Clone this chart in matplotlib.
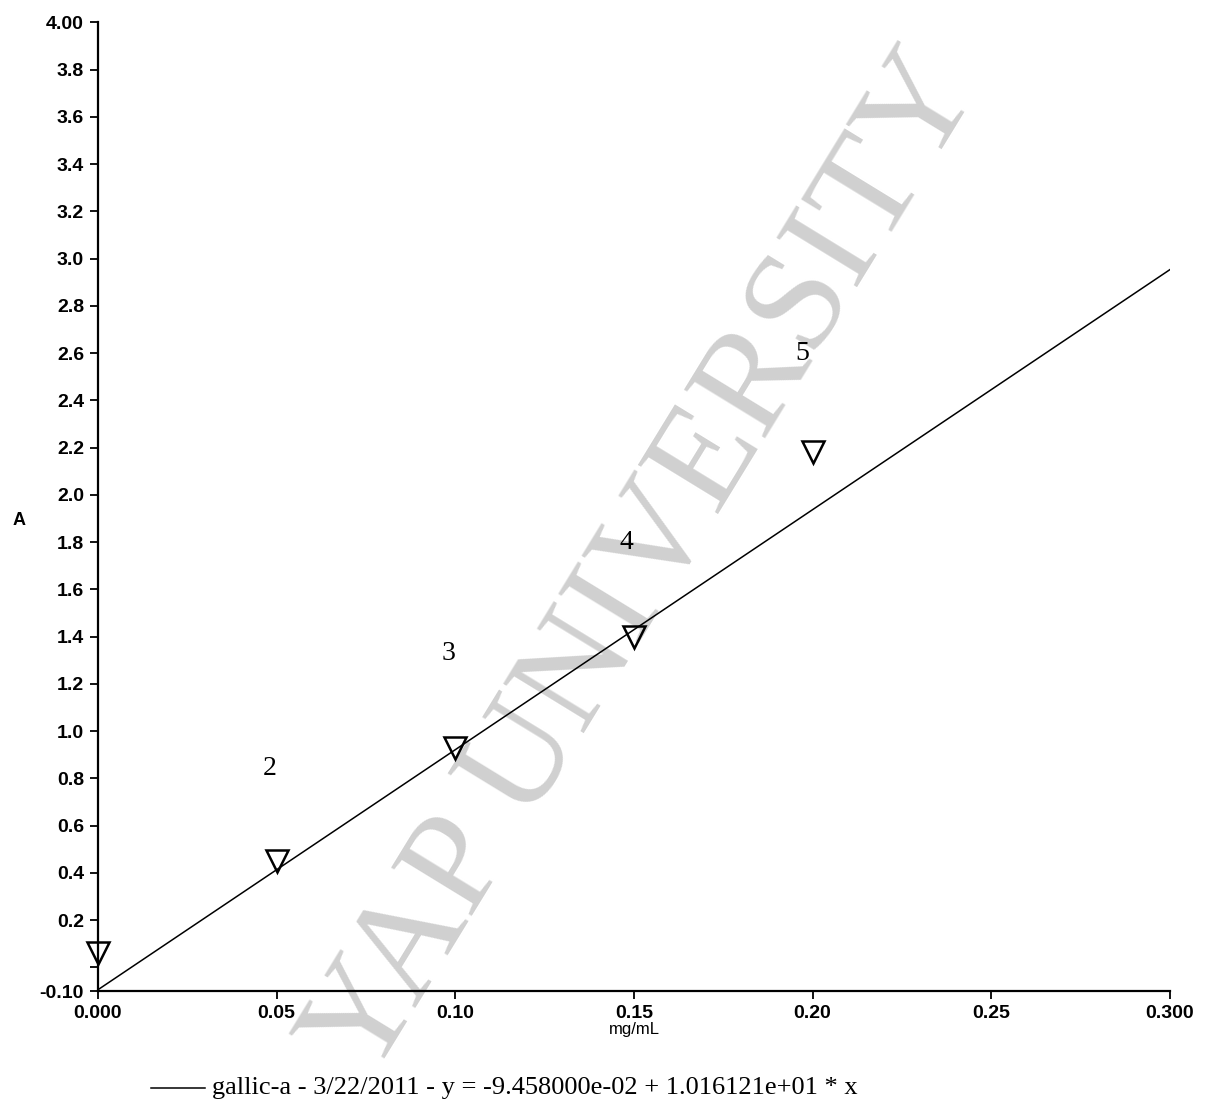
"""Gallic acid calibration curve (absorbance vs concentration), redrawn
from a scanned spectrophotometer printout.
"""

import matplotlib.pyplot as plt

# standards: concentration (mg/mL) and measured absorbance
conc = [0.000, 0.05, 0.10, 0.15, 0.20]
absorbance = [0.06, 0.45, 0.93, 1.40, 2.18]

# sample labels drawn above the standards
label_text = ["2", "3", "4", "5"]
label_x = [0.048, 0.098, 0.148, 0.197]
label_y = [0.84, 1.33, 1.80, 2.60]

# fitted line y = b + m * x
intercept = -9.458000e-02
slope = 1.016121e01
fit_x = [0.0, 0.300]

x_ticks = [0.000, 0.05, 0.10, 0.15, 0.20, 0.25, 0.300]
x_tick_labels = ["0.000", "0.05", "0.10", "0.15", "0.20", "0.25", "0.300"]
y_ticks = [-0.10, 0.0, 0.2, 0.4, 0.6, 0.8, 1.0, 1.2, 1.4, 1.6, 1.8, 2.0,
           2.2, 2.4, 2.6, 2.8, 3.0, 3.2, 3.4, 3.6, 3.8, 4.00]
y_tick_labels = ["-0.10", "", "0.2", "0.4", "0.6", "0.8", "1.0", "1.2", "1.4",
                 "1.6", "1.8", "2.0", "2.2", "2.4", "2.6", "2.8", "3.0", "3.2",
                 "3.4", "3.6", "3.8", "4.00"]

legend_text = "gallic-a - 3/22/2011 - y = -9.458000e-02 + 1.016121e+01 * x"
watermark = "YAP UNIVERSITY"

SANS = ["Liberation Sans", "DejaVu Sans"]
SERIF = ["Liberation Serif", "DejaVu Serif"]

fig = plt.figure(figsize=(12.14, 11.12), dpi=100)
ax = fig.add_axes([0.0807, 0.1088, 0.883, 0.871])
ax.set_facecolor("none")

# faint diagonal watermark behind the data
ax.text(0.532, 0.49, watermark, transform=fig.transFigure, family=SERIF,
        fontsize=104, color="#d0d0d0", rotation=58.5, rotation_mode="anchor",
        ha="center", va="center", zorder=0, clip_on=False)

fit_y = [intercept + slope * x for x in fit_x]
ax.plot(fit_x, fit_y, color="black", linewidth=1.1, zorder=3)
ax.plot(conc, absorbance, linestyle="none", marker="v", markersize=16,
        markerfacecolor="none", markeredgecolor="black", markeredgewidth=1.8,
        clip_on=False, zorder=4)

for t, x, y in zip(label_text, label_x, label_y):
    ax.text(x, y, t, family=SERIF, fontsize=20, ha="center", va="center",
            zorder=5)

ax.set_xlim(0.0, 0.300)
ax.set_ylim(-0.10, 4.00)
for side in ("top", "right"):
    ax.spines[side].set_visible(False)
for side in ("left", "bottom"):
    ax.spines[side].set_linewidth(1.6)

ax.set_xticks(x_ticks)
ax.set_xticklabels(x_tick_labels, family=SANS, fontsize=14, fontweight="bold")
ax.set_yticks(y_ticks)
ax.set_yticklabels(y_tick_labels, family=SANS, fontsize=14, fontweight="bold")
ax.tick_params(axis="both", direction="out", length=6, width=1.3, pad=4)

ax.set_xlabel("mg/mL", family=SANS, fontsize=12, labelpad=0)
fig.text(0.010, 0.532, "A", family=SANS, fontsize=13, fontweight="bold",
         ha="left", va="center")

# legend line + equation at the bottom
fig.add_artist(plt.Line2D([0.124, 0.169], [0.0215, 0.0215], color="black",
                          linewidth=1.1))
fig.text(0.175, 0.0215, legend_text, family=SERIF, fontsize=19,
         ha="left", va="center")

fig.savefig("out.png", dpi=100)
